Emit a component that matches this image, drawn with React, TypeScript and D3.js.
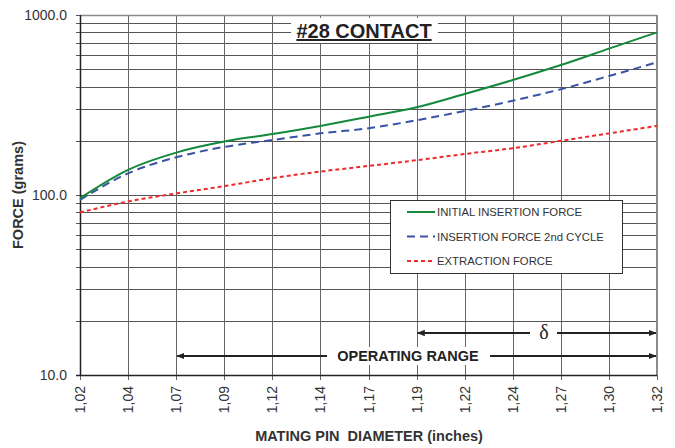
import { useEffect, useRef } from "react";
import * as d3 from "d3";

const W = 675;
const H = 448;

const diameters = ["1,02", "1,04", "1,07", "1,09", "1,12", "1,14", "1,17", "1,19", "1,22", "1,24", "1,27", "1,30", "1,32"];
const initialInsertion = [96, 138, 172, 198, 218, 242, 272, 307, 364, 435, 527, 650, 801];
const secondCycle = [94, 132, 162, 185, 202, 220, 235, 260, 293, 334, 387, 458, 546];
const extraction = [80, 92, 102, 112, 124, 135, 145, 156, 169, 182, 200, 220, 242];
const yTickLabels = ["10.0", "100.0", "1000.0"];

const series = [
  { name: "INITIAL INSERTION FORCE", values: initialInsertion, color: "#14893c", dash: null as string | null },
  { name: "INSERTION FORCE 2nd CYCLE", values: secondCycle, color: "#3953a4", dash: "8,5" },
  { name: "EXTRACTION FORCE", values: extraction, color: "#ee2a2a", dash: "4,3" },
];

const margin = { left: 80, right: 18, top: 15, bottom: 72 };
const font = "Arial, 'Liberation Sans', sans-serif";

export default function App() {
  const ref = useRef<SVGSVGElement>(null);

  useEffect(() => {
    if (!ref.current) return;
    const svg = d3.select(ref.current);
    svg.selectAll("*").remove();

    const x = d3.scalePoint<string>().domain(diameters).range([margin.left, W - margin.right]);
    const y = d3.scaleLog().domain([10, 1000]).range([H - margin.bottom - 1, margin.top]);
    const [x0, x1] = x.range();
    const [yb, yt] = y.range();

    // arrowhead
    const defs = svg.append("defs");
    defs
      .append("marker")
      .attr("id", "arr")
      .attr("viewBox", "0 0 10 10")
      .attr("refX", 9)
      .attr("refY", 5)
      .attr("markerWidth", 4)
      .attr("markerHeight", 4)
      .attr("orient", "auto-start-reverse")
      .append("path")
      .attr("d", "M0,1L10,5L0,9Z")
      .attr("fill", "#222");

    const minor: number[] = [];
    for (const dec of [10, 100]) for (let k = 1; k <= 9; k++) minor.push(dec * k);
    minor.push(1000);

    const grid = svg.append("g").attr("stroke", "#555").attr("stroke-width", 1).attr("shape-rendering", "crispEdges");
    grid
      .selectAll("line.h")
      .data(minor)
      .join("line")
      .attr("x1", x0 - 4)
      .attr("x2", x1)
      .attr("y1", (d) => Math.round(y(d)) + 0.5)
      .attr("y2", (d) => Math.round(y(d)) + 0.5);
    grid
      .selectAll("line.v")
      .data(diameters)
      .join("line")
      .attr("stroke", "#666")
      .attr("x1", (d) => Math.round(x(d)!) + 0.5)
      .attr("x2", (d) => Math.round(x(d)!) + 0.5)
      .attr("y1", yt)
      .attr("y2", yb + 5);

    // frame
    svg
      .append("line")
      .attr("x1", x1)
      .attr("x2", x1)
      .attr("y1", yt)
      .attr("y2", yb)
      .attr("stroke", "#8a8a8a")
      .attr("stroke-width", 2);
    svg
      .append("line")
      .attr("x1", x0)
      .attr("x2", x1)
      .attr("y1", yt + 0.5)
      .attr("y2", yt + 0.5)
      .attr("stroke", "#8a8a8a")
      .attr("stroke-width", 1.5);
    svg
      .append("line")
      .attr("x1", x0 + 0.5)
      .attr("x2", x0 + 0.5)
      .attr("y1", yt)
      .attr("y2", yb)
      .attr("stroke", "#222")
      .attr("stroke-width", 1.5);
    svg
      .append("line")
      .attr("x1", x0 - 4)
      .attr("x2", x1)
      .attr("y1", yb + 0.5)
      .attr("y2", yb + 0.5)
      .attr("stroke", "#222")
      .attr("stroke-width", 1.5);

    // series
    const line = d3
      .line<number>()
      .x((_, i) => x(diameters[i])!)
      .y((d) => y(d))
      .curve(d3.curveMonotoneX);
    svg
      .append("g")
      .selectAll("path")
      .data(series.slice().reverse())
      .join("path")
      .attr("d", (s) => line(s.values))
      .attr("fill", "none")
      .attr("stroke", (s) => s.color)
      .attr("stroke-width", 2)
      .attr("stroke-dasharray", (s) => s.dash);

    // title
    const title = svg.append("g");
    title.append("rect").attr("x", 291).attr("y", 18).attr("width", 147).attr("height", 25).attr("fill", "#fff");
    title
      .append("text")
      .attr("x", 364)
      .attr("y", 38)
      .attr("text-anchor", "middle")
      .attr("font-family", font)
      .attr("font-weight", "bold")
      .attr("font-size", 20)
      .attr("fill", "#222")
      .attr("text-decoration", "underline")
      .text("#28 CONTACT");

    // legend
    const lg = svg.append("g");
    lg.append("rect")
      .attr("x", 390.5)
      .attr("y", 200.5)
      .attr("width", 232)
      .attr("height", 73)
      .attr("fill", "#fff")
      .attr("stroke", "#333")
      .attr("stroke-width", 1);
    series.forEach((s, i) => {
      const ly = 212 + i * 24.5;
      lg.append("line")
        .attr("x1", 407)
        .attr("x2", 435)
        .attr("y1", ly)
        .attr("y2", ly)
        .attr("stroke", s.color)
        .attr("stroke-width", 2)
        .attr("stroke-dasharray", s.dash);
      lg.append("text")
        .attr("x", 437)
        .attr("y", ly + 4)
        .attr("font-family", font)
        .attr("font-size", 11.3)
        .attr("fill", "#333")
        .text(s.name);
    });

    // delta arrow
    const dy = 333;
    const xd0 = x("1,19")!;
    svg.append("line").attr("x1", 530).attr("x2", xd0 + 1).attr("y1", dy).attr("y2", dy)
      .attr("stroke", "#222").attr("stroke-width", 2).attr("marker-end", "url(#arr)");
    svg.append("line").attr("x1", 557).attr("x2", x1 - 1).attr("y1", dy).attr("y2", dy)
      .attr("stroke", "#222").attr("stroke-width", 2).attr("marker-end", "url(#arr)");
    svg.append("rect").attr("x", 535).attr("y", dy - 11).attr("width", 18).attr("height", 20).attr("fill", "#fff");
    svg.append("text").attr("x", 544).attr("y", dy + 6).attr("text-anchor", "middle")
      .attr("font-family", "'Liberation Serif', 'DejaVu Serif', serif").attr("font-size", 20).attr("fill", "#222").text("δ");

    // operating range arrow
    const oy = 356;
    const xo0 = x("1,07")!;
    svg.append("rect").attr("x", 328).attr("y", oy - 9).attr("width", 161).attr("height", 18).attr("fill", "#fff");
    svg.append("line").attr("x1", 327).attr("x2", xo0 + 1).attr("y1", oy).attr("y2", oy)
      .attr("stroke", "#222").attr("stroke-width", 2).attr("marker-end", "url(#arr)");
    svg.append("line").attr("x1", 490).attr("x2", x1 - 1).attr("y1", oy).attr("y2", oy)
      .attr("stroke", "#222").attr("stroke-width", 2).attr("marker-end", "url(#arr)");
    svg.append("text").attr("x", 408).attr("y", oy + 5).attr("text-anchor", "middle")
      .attr("font-family", font).attr("font-weight", "bold").attr("font-size", 14.5).attr("fill", "#222")
      .text("OPERATING RANGE");

    // y tick labels
    svg
      .append("g")
      .selectAll("text")
      .data(yTickLabels)
      .join("text")
      .attr("x", 67)
      .attr("y", (d) => y(+d) + 5)
      .attr("text-anchor", "end")
      .attr("font-family", font)
      .attr("font-size", 14)
      .attr("fill", "#333")
      .text((d) => d);

    // x tick labels
    svg
      .append("g")
      .selectAll("text")
      .data(diameters)
      .join("text")
      .attr("transform", (d) => `translate(${x(d)! + 5},${yb + 11}) rotate(-90)`)
      .attr("text-anchor", "end")
      .attr("font-family", font)
      .attr("font-size", 14)
      .attr("fill", "#333")
      .text((d) => d);

    // axis titles
    svg
      .append("text")
      .attr("x", 369)
      .attr("y", 441)
      .attr("text-anchor", "middle")
      .attr("font-family", font)
      .attr("font-weight", "bold")
      .attr("font-size", 14.5)
      .attr("fill", "#333")
      .style("white-space", "pre")
      .text("MATING PIN  DIAMETER (inches)");
    svg
      .append("text")
      .attr("transform", `translate(23,${(yt + yb) / 2}) rotate(-90)`)
      .attr("text-anchor", "middle")
      .attr("font-family", font)
      .attr("font-weight", "bold")
      .attr("font-size", 14.5)
      .attr("fill", "#333")
      .text("FORCE (grams)");
  }, []);

  return (
    <svg
      ref={ref}
      width={W}
      height={H}
      style={{ position: "absolute", left: 0, top: 0, background: "#fff" }}
    />
  );
}
